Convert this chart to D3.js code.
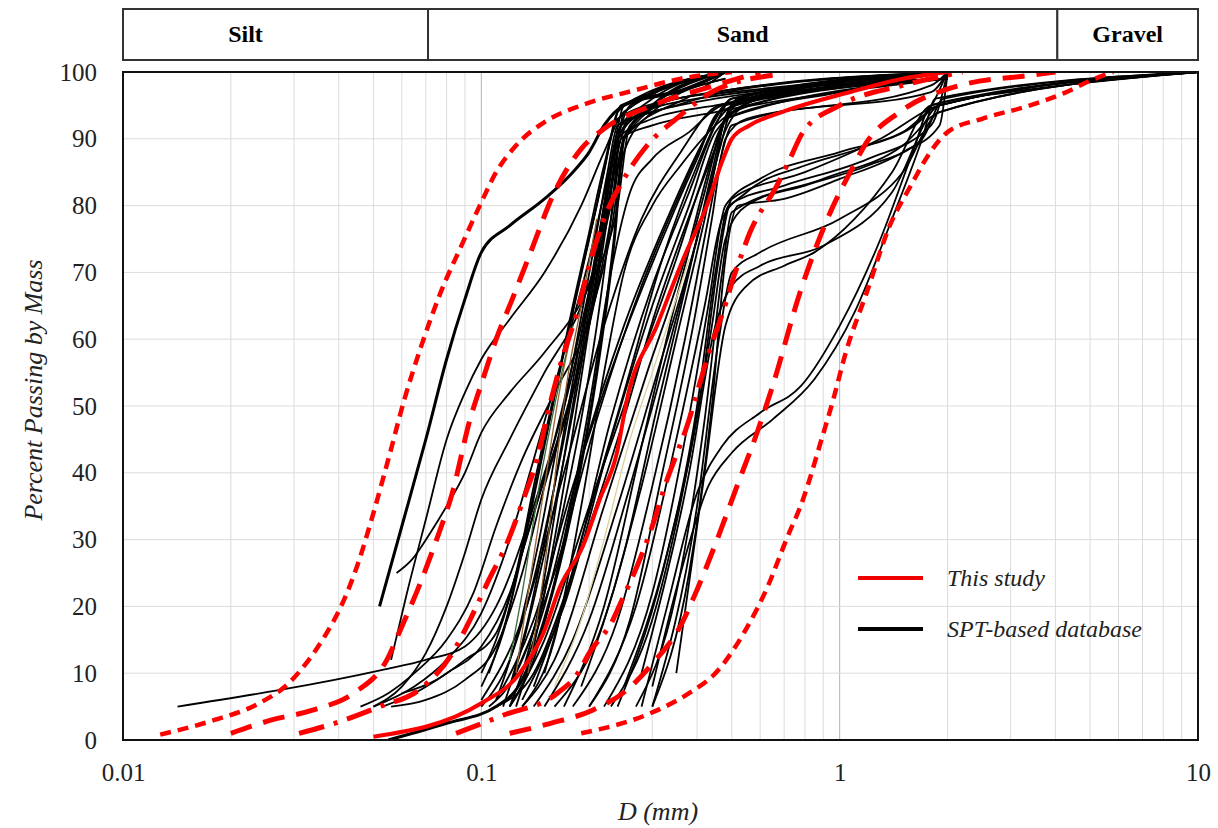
<!DOCTYPE html>
<meta charset="utf-8">
<style>
body { margin: 0; background: #fff; }
text { font-family: "Liberation Serif", "Times New Roman", serif; }
.grid line { stroke: #dcdcdc; stroke-width: 1px; }
.grid line.major { stroke: #b4b4b4; }
.spt { fill: none; stroke: #000; stroke-width: 1.8px; }
.red { fill: none; stroke: #f00; stroke-linecap: butt; }
</style>
<svg id="chart" width="1218" height="828"></svg>
<script src="https://cdnjs.cloudflare.com/ajax/libs/d3/7.8.5/d3.min.js"></script>
<script>
// soil classes on top band
var soilClasses = ["Silt", "Sand", "Gravel"];
var soilBounds = [0.01, 0.071, 4.05, 10];

var xTicks = [0.01, 0.1, 1, 10];
var yTicks = [0, 10, 20, 30, 40, 50, 60, 70, 80, 90, 100];

// This study: mean and bounds, [D mm, % passing]
var redMean = [[0.05,0.5],[0.1,5.5],[0.128,10],[0.149,16],[0.166,23],[0.192,29],[0.214,36],[0.239,43],[0.255,51],[0.309,62],[0.366,72],[0.426,80],[0.473,87],[0.5,90],[0.56,92],[0.69,94],[1.07,97],[1.5,99],[2,100]];
var redOuterL = [[0.0127,0.8],[0.018,3],[0.024,5.5],[0.029,8.5],[0.033,12],[0.037,16],[0.041,20.5],[0.045,26],[0.05,34],[0.055,42],[0.061,51],[0.068,59],[0.077,67],[0.088,74],[0.099,80],[0.11,85],[0.125,89],[0.15,92.5],[0.19,95],[0.27,97.3],[0.36,99],[0.5,100]];
var redInnerL = [[0.02,1],[0.026,3],[0.034,4.5],[0.044,7],[0.0545,12],[0.06,17],[0.067,23],[0.075,30],[0.083,37],[0.093,48],[0.101,54],[0.11,60],[0.122,66],[0.135,72],[0.16,82],[0.19,88.5],[0.22,91.5],[0.3,95],[0.45,98],[0.6,100]];
var redDashDotL = [[0.031,1],[0.04,2.7],[0.052,5],[0.067,7.5],[0.083,13],[0.093,18],[0.105,24],[0.118,29.5],[0.131,36],[0.143,42],[0.155,50],[0.168,57],[0.185,64],[0.2,71],[0.22,78],[0.25,84],[0.29,89],[0.35,93],[0.44,97],[0.65,99.5]];
var redDashDotR = [[0.085,1],[0.115,3.7],[0.163,7],[0.186,10],[0.2,13],[0.233,18],[0.247,21],[0.272,26],[0.3,32],[0.33,39],[0.352,43],[0.375,47],[0.4,52],[0.426,57],[0.485,66],[0.504,69],[0.527,72],[0.562,76],[0.668,83],[0.727,87],[0.79,91],[1.0,95],[1.5,98],[2.2,100]];
var redInnerR = [[0.12,1],[0.156,2.5],[0.205,4.5],[0.255,7.5],[0.301,11.5],[0.359,17],[0.4,22.5],[0.455,30],[0.517,38],[0.588,46],[0.65,53],[0.775,67],[0.96,80],[1.07,85],[1.19,89.5],[1.47,94],[2.17,98],[3.4,99.5],[4,100]];
var redOuterR = [[0.19,1],[0.296,4],[0.38,7],[0.45,10],[0.54,16],[0.63,23],[0.71,30],[0.79,36],[0.89,45],[0.96,51],[1.04,58],[1.19,67],[1.38,77],[1.58,83],[1.79,88],[2.0,91],[2.5,93],[3.4,95],[4.3,97],[5,98.7],[5.8,100]];

// SPT-based database curves, [D mm, % passing]
var sptThick = [
  [[0.052,20],[0.06,32],[0.07,45],[0.08,57],[0.09,66],[0.1,73],[0.12,77],[0.15,81],[0.18,85],[0.2,88],[0.22,92],[0.25,95],[0.35,97],[0.48,100]],
  [[0.055,0],[0.08,2.5],[0.11,5],[0.13,9],[0.15,18],[0.18,35],[0.21,55],[0.235,75],[0.25,90],[0.3,95],[0.48,100]]
];
var sptCurves = [
  [[0.0142,5],[0.053,10.5],[0.07,12],[0.09,14],[0.11,20],[0.14,35],[0.18,55],[0.22,78],[0.24,90],[0.3,95],[0.48,100]],
  [[0.056,12],[0.062,22],[0.07,33],[0.08,45],[0.09,52],[0.1,57],[0.12,63],[0.15,70],[0.19,80],[0.22,88],[0.25,94],[0.48,100]],
  [[0.058,25],[0.064,27],[0.072,31],[0.08,35],[0.09,40],[0.1,46],[0.12,52],[0.15,58],[0.2,68],[0.24,80],[0.26,92],[0.48,99]],
  [[0.05,5],[0.06,8],[0.07,13],[0.08,20],[0.09,28],[0.1,36],[0.12,45],[0.15,55],[0.19,65],[0.23,80],[0.25,90],[0.4,97],[0.48,100]],
  [[0.046,5],[0.055,7],[0.065,10],[0.08,15],[0.095,22],[0.11,32],[0.13,42],[0.16,52],[0.2,63],[0.23,76],[0.25,88],[0.3,94],[0.48,99]],
  [[0.053,5],[0.065,7],[0.08,10],[0.1,14],[0.12,22],[0.14,34],[0.17,48],[0.2,62],[0.23,78],[0.25,90],[0.35,96],[2,100]],
  [[0.056,5],[0.07,6],[0.09,9],[0.11,14],[0.13,25],[0.15,38],[0.18,52],[0.21,68],[0.235,85],[0.25,94],[0.48,100]],
  [[0.05,5],[0.065,8],[0.08,12],[0.1,19],[0.12,30],[0.14,42],[0.17,58],[0.2,72],[0.23,86],[0.26,95],[0.48,100]],
  [[0.06,7],[0.075,9],[0.09,12],[0.11,16],[0.13,28],[0.16,45],[0.19,62],[0.22,78],[0.24,90],[0.3,96],[0.48,100]],
  [[0.1,10],[0.11,15],[0.125,25],[0.14,38],[0.16,52],[0.18,64],[0.2,75],[0.22,85],[0.24,94],[0.3,97],[0.48,100]],
  [[0.1,8],[0.115,16],[0.13,28],[0.15,44],[0.17,58],[0.19,70],[0.21,80],[0.23,90],[0.245,95],[0.4,98],[0.48,100]],
  [[0.105,10],[0.12,20],[0.135,33],[0.155,48],[0.175,62],[0.2,76],[0.22,86],[0.24,93],[0.35,96],[0.5,97],[2,100]],
  [[0.11,6],[0.125,15],[0.145,30],[0.165,46],[0.185,60],[0.205,73],[0.225,85],[0.24,92],[0.3,94],[0.45,96],[2,99]],
  [[0.115,5],[0.13,14],[0.15,28],[0.17,42],[0.19,56],[0.21,70],[0.23,83],[0.245,92],[0.35,95],[0.48,97],[2,100]],
  [[0.12,8],[0.135,18],[0.155,34],[0.175,50],[0.195,64],[0.215,77],[0.235,89],[0.25,95],[0.48,100]],
  [[0.125,5],[0.14,14],[0.16,30],[0.18,46],[0.2,62],[0.22,76],[0.24,88],[0.26,93],[0.4,96],[2,99]],
  [[0.1,5],[0.12,12],[0.14,24],[0.16,38],[0.18,52],[0.2,66],[0.22,80],[0.24,91],[0.27,94],[0.45,97],[2,100]],
  [[0.13,10],[0.145,20],[0.165,38],[0.185,54],[0.205,68],[0.225,82],[0.24,90],[0.3,93],[0.45,95],[2,99]],
  [[0.105,5],[0.125,10],[0.15,22],[0.17,35],[0.19,48],[0.21,62],[0.23,78],[0.245,90],[0.3,92],[0.45,94],[2,99]],
  [[0.12,5],[0.14,12],[0.17,30],[0.2,50],[0.23,70],[0.26,82],[0.3,87],[0.38,91],[0.47,95],[2,100]],
  [[0.13,5],[0.16,15],[0.19,35],[0.22,55],[0.25,70],[0.3,80],[0.36,86],[0.45,92],[0.6,96],[2,99]],
  [[0.12,5],[0.15,15],[0.2,35],[0.27,55],[0.35,72],[0.42,85],[0.47,92],[0.6,96],[1.5,99],[2,100]],
  [[0.13,5],[0.16,12],[0.22,35],[0.29,55],[0.37,72],[0.44,87],[0.48,93],[1,97],[2,100]],
  [[0.11,6],[0.14,18],[0.18,38],[0.24,58],[0.32,75],[0.4,87],[0.46,94],[0.8,97],[2,100]],
  [[0.14,5],[0.18,15],[0.24,35],[0.31,55],[0.39,73],[0.45,86],[0.48,93],[2,99]],
  [[0.15,5],[0.2,18],[0.26,38],[0.33,58],[0.4,75],[0.46,88],[0.5,94],[2,100]],
  [[0.12,8],[0.16,25],[0.21,48],[0.28,68],[0.36,82],[0.44,92],[0.5,96],[2,100]],
  [[0.13,6],[0.17,20],[0.23,45],[0.3,65],[0.38,80],[0.45,91],[0.6,96],[2,100]],
  [[0.16,5],[0.21,15],[0.28,38],[0.35,60],[0.42,78],[0.47,90],[0.55,95],[2,99]],
  [[0.18,5],[0.24,18],[0.3,38],[0.37,60],[0.43,78],[0.47,88],[0.5,92],[1.8,98],[2,100]],
  [[0.2,5],[0.26,18],[0.32,40],[0.39,62],[0.44,78],[0.48,90],[0.55,93],[1.8,97],[2,100]],
  [[0.1,6],[0.13,18],[0.17,40],[0.22,62],[0.28,78],[0.36,88],[0.46,95],[2,100]],
  [[0.12,5],[0.15,20],[0.19,42],[0.25,62],[0.33,78],[0.42,90],[0.48,95],[2,100]],
  [[0.14,8],[0.18,25],[0.23,48],[0.3,68],[0.38,82],[0.45,92],[0.5,96],[2,100]],
  [[0.17,5],[0.22,20],[0.28,44],[0.35,66],[0.42,82],[0.47,92],[0.52,96],[2,100]],
  [[0.19,8],[0.25,28],[0.31,50],[0.38,70],[0.44,85],[0.48,93],[0.55,96],[2,100]],
  [[0.11,5],[0.14,10],[0.18,25],[0.24,45],[0.31,65],[0.39,80],[0.46,90],[0.5,95],[2,100]],
  [[0.15,10],[0.19,30],[0.25,52],[0.32,72],[0.4,86],[0.46,93],[0.6,97],[2,100]],
  [[0.2,5],[0.27,20],[0.35,45],[0.42,65],[0.47,78],[0.55,82],[0.8,86],[1.2,89],[1.7,93],[2,100]],
  [[0.22,5],[0.3,22],[0.37,45],[0.43,65],[0.48,80],[0.6,84],[1,88],[1.5,91],[1.9,95],[10,100]],
  [[0.24,5],[0.32,25],[0.4,50],[0.45,70],[0.49,80],[0.7,83],[1.2,87],[1.8,92],[2,100]],
  [[0.25,8],[0.33,28],[0.41,52],[0.46,72],[0.5,81],[0.8,85],[1.3,90],[1.9,95],[10,100]],
  [[0.27,5],[0.35,22],[0.42,48],[0.47,70],[0.5,79],[0.9,84],[1.5,89],[1.9,94],[10,100]],
  [[0.3,5],[0.38,25],[0.44,50],[0.48,72],[0.52,80],[0.7,81],[1,84],[1.5,88],[1.9,92],[2,100]],
  [[0.3,5],[0.4,35],[0.46,60],[0.5,70],[0.6,73],[1,78],[1.5,85],[1.9,94],[10,100]],
  [[0.28,10],[0.38,40],[0.45,62],[0.5,68],[0.6,71],[0.9,74],[1.4,82],[1.9,95],[10,100]],
  [[0.23,5],[0.3,18],[0.38,42],[0.44,62],[0.48,75],[0.55,80],[0.8,83],[1.2,86],[1.7,90],[1.95,96],[10,100]],
  [[0.28,5],[0.33,20],[0.4,37],[0.47,44],[0.6,49],[0.78,53],[1.0,62],[1.3,75],[1.6,88],[1.8,95],[3,97],[10,100]],
  [[0.3,8],[0.36,25],[0.43,38],[0.5,43],[0.65,48],[0.85,54],[1.1,64],[1.4,78],[1.7,90],[1.85,96],[10,100]],
  [[0.35,10],[0.42,40],[0.48,62],[0.55,68],[0.7,71],[0.85,73],[1.1,78],[1.4,85],[1.8,95],[10,100]]
];
// a few thin coloured curves inside the bundle
var sptAccent = [
  [[0.135,10],[0.145,20],[0.155,32],[0.165,45],[0.175,55],[0.19,65],[0.21,78]],
  [[0.125,10],[0.135,22],[0.15,38],[0.165,52],[0.18,62]],
  [[0.16,8],[0.19,18],[0.22,30],[0.26,45],[0.3,55],[0.34,64],[0.38,72]],
  [[0.12,12],[0.13,22],[0.145,38],[0.16,50],[0.18,62]]
];
var accentColors = ["#8a5a2b", "#9a6a3a", "#d8cf9a", "#3d6b3d"];

var legendLabels = ["This study", "SPT-based database"];

var margin = {top: 72, right: 20, bottom: 88, left: 123};
var svg = d3.select("#chart");
var W = +svg.attr("width"), H = +svg.attr("height");
var x = d3.scaleLog().domain([0.01, 10]).range([margin.left, W - margin.right]);
var y = d3.scaleLinear().domain([0, 100]).range([H - margin.bottom, margin.top]);

// top band with soil classes
var band = svg.append("g");
var bandTop = 9, bandBot = 60;
for (var i = 0; i < soilClasses.length; i++) {
  var x0 = x(soilBounds[i]);
  var x1 = x(soilBounds[i + 1]);
  band.append("rect")
    .attr("x", x0).attr("y", bandTop)
    .attr("width", x1 - x0).attr("height", bandBot - bandTop)
    .attr("fill", "#fff").attr("stroke", "#333").attr("stroke-width", 2);
  band.append("text")
    .attr("x", (x0 + x1) / 2 + (i == 0 ? -30 : 0)).attr("y", 42)
    .attr("text-anchor", "middle")
    .attr("font-size", 24).attr("font-weight", "bold")
    .text(soilClasses[i]);
}

// grid
var grid = svg.append("g").attr("class", "grid");
grid.selectAll("line.v").data(x.ticks())
  .enter().append("line")
    .attr("class", function(d) { return xTicks.indexOf(+d.toPrecision(3)) >= 0 ? "v major" : "v"; })
    .attr("x1", function(d) { return x(d); }).attr("x2", function(d) { return x(d); })
    .attr("y1", y(0)).attr("y2", y(100));
grid.selectAll("line.h").data(yTicks)
  .enter().append("line")
    .attr("class", "h")
    .attr("x1", x(0.01)).attr("x2", x(10))
    .attr("y1", function(d) { return y(d); }).attr("y2", function(d) { return y(d); });

svg.append("defs").append("clipPath").attr("id", "clip")
  .append("rect")
    .attr("x", x(0.01)).attr("y", y(100))
    .attr("width", x(10) - x(0.01)).attr("height", y(0) - y(100));

var line = d3.line()
    .curve(d3.curveMonotoneX)
    .x(function(d) { return x(d[0]); })
    .y(function(d) { return y(d[1]); });

var plot = svg.append("g").attr("clip-path", "url(#clip)");

plot.selectAll("path.spt").data(sptCurves)
  .enter().append("path")
    .attr("class", "spt")
    .attr("d", line);
plot.selectAll("path.thick").data(sptThick)
  .enter().append("path")
    .attr("class", "spt")
    .style("stroke-width", "3px")
    .attr("d", line);
plot.selectAll("path.accent").data(sptAccent)
  .enter().append("path")
    .attr("fill", "none")
    .attr("stroke", function(d, i) { return accentColors[i]; })
    .attr("stroke-width", 1.3)
    .attr("d", line);

// red curves for this study
var reds = [
  {d: redOuterL, dash: "11,7", w: 4.5},
  {d: redOuterR, dash: "11,7", w: 4.5},
  {d: redInnerL, dash: "22,12", w: 5},
  {d: redInnerR, dash: "22,12", w: 5},
  {d: redDashDotL, dash: "26,10,4,10", w: 5},
  {d: redDashDotR, dash: "26,10,4,10", w: 5},
  {d: redMean, dash: null, w: 4}
];
reds.forEach(function(r) {
  plot.append("path")
    .datum(r.d)
    .attr("class", "red")
    .attr("stroke-width", r.w)
    .attr("stroke-dasharray", r.dash)
    .attr("d", line);
});

// frame
svg.append("rect")
  .attr("x", x(0.01)).attr("y", y(100))
  .attr("width", x(10) - x(0.01)).attr("height", y(0) - y(100))
  .attr("fill", "none").attr("stroke", "#111").attr("stroke-width", 2);

// axes
var xAxis = svg.append("g")
  .attr("transform", "translate(0," + y(0) + ")")
  .call(d3.axisBottom(x).tickValues(xTicks).tickSize(0).tickPadding(23)
    .tickFormat(function(d) { return String(d); }));
var yAxis = svg.append("g")
  .attr("transform", "translate(" + x(0.01) + ",0)")
  .call(d3.axisLeft(y).tickValues(yTicks).tickSize(0).tickPadding(26));
[xAxis, yAxis].forEach(function(a) {
  a.select(".domain").remove();
  a.selectAll("text")
    .attr("font-family", "Liberation Serif, serif")
    .attr("font-size", 25).attr("fill", "#222");
});

svg.append("text")
  .attr("x", 658).attr("y", 820)
  .attr("text-anchor", "middle")
  .attr("font-size", 26).attr("font-style", "italic").attr("fill", "#222")
  .text("D (mm)");
svg.append("text")
  .attr("transform", "translate(42,390) rotate(-90)")
  .attr("text-anchor", "middle")
  .attr("font-size", 26).attr("font-style", "italic").attr("fill", "#222")
  .text("Percent Passing by Mass");

// legend
var legend = svg.append("g");
legendLabels.forEach(function(t, i) {
  var ly = 578 + i * 51;
  legend.append("line")
    .attr("x1", 858).attr("x2", 923)
    .attr("y1", ly).attr("y2", ly)
    .attr("stroke", i == 0 ? "#e00" : "#000").attr("stroke-width", 4);
  legend.append("text")
    .attr("x", 947).attr("y", ly + 8)
    .attr("font-size", 24).attr("font-style", "italic").attr("fill", "#222")
    .text(t);
});
</script>
